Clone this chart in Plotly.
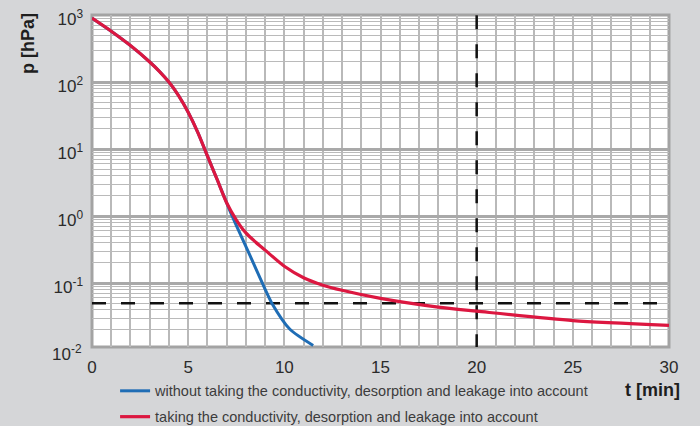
import plotly.graph_objects as go

# ---- data ----
t_red = [0, 1, 2, 3, 3.5, 4, 4.5, 5, 5.5, 6, 6.5, 7, 7.5, 8, 8.5, 9, 10, 11, 12, 13, 15, 18, 20, 25, 30]
p_red = [902, 575, 351, 200, 145, 100, 63, 35.5, 17.8, 7.9, 3.55, 1.58, 0.88, 0.56, 0.41, 0.31, 0.178,
         0.12, 0.093, 0.078, 0.059, 0.0437, 0.038, 0.0275, 0.0234]

t_blue = [0, 1, 2, 3, 3.5, 4, 4.5, 5, 5.5, 6, 6.5, 7, 7.25, 7.68, 8.2, 8.98, 9.35, 10.29, 11.5]
p_blue = [902, 575, 351, 200, 145, 100, 63, 35.5, 17.8, 7.9, 3.55, 1.58, 1.06, 0.56, 0.263, 0.083,
          0.050, 0.0204, 0.0117]

p_limit = 0.05     # horizontal dashed reference
t_mark = 20        # vertical dashed reference

x_ticks = [0, 5, 10, 15, 20, 25, 30]
y_ticks = [0.1, 1, 10, 100, 1000]
y_ticktext = ["10<sup>-1</sup>", "10<sup>0</sup>", "10<sup>1</sup>", "10<sup>2</sup>", "10<sup>3</sup>"]
y_minor = [m * 10 ** e for e in range(-2, 3) for m in range(2, 10)]

label_blue = "without taking the conductivity, desorption and leakage into account"
label_red = "taking the conductivity, desorption and leakage into account"

RED = "#dc1740"
BLUE = "#1f6db5"
BG = "#d5d6d8"
FONT = "Liberation Sans"

fig = go.Figure()

fig.add_trace(go.Scatter(x=[0, 30], y=[p_limit, p_limit], mode="lines",
                         line=dict(color="#111111", width=2.5, dash="14px,15px"),
                         showlegend=False, hoverinfo="skip"))
fig.add_trace(go.Scatter(x=[t_mark, t_mark], y=[1000, 0.008], mode="lines",
                         line=dict(color="#111111", width=2.5, dash="14px,15px"),
                         showlegend=False, hoverinfo="skip"))

fig.add_trace(go.Scatter(x=t_blue, y=p_blue, mode="lines", name=label_blue,
                         line=dict(color=BLUE, width=3, shape="spline", smoothing=0.7),
                         legendgroup="a"))
fig.add_trace(go.Scatter(x=t_red, y=p_red, mode="lines", name=label_red,
                         line=dict(color=RED, width=3.2, shape="spline", smoothing=0.7),
                         legendgroup="b"))

fig.update_layout(
    width=700, height=426,
    margin=dict(l=92, r=31, t=15, b=79, autoexpand=False),
    paper_bgcolor=BG, plot_bgcolor="white",
    font=dict(family=FONT, color="#2b2b2b"),
    showlegend=True,
    legend=dict(x=0.04, y=-0.084, xanchor="left", yanchor="top",
                bgcolor="rgba(0,0,0,0)", font=dict(size=14.5, color="#3c3c3c"),
                tracegroupgap=4, itemwidth=30),
    xaxis=dict(range=[0, 30], tickvals=x_ticks, ticks="", showline=False, zeroline=False,
               showgrid=True, gridcolor="#b9b9b9", gridwidth=1.5,
               minor=dict(dtick=1, showgrid=True, gridcolor="#b9b9b9", gridwidth=1.5),
               tickfont=dict(size=17, color="#2b2b2b"), ticklabelstandoff=8),
    yaxis=dict(type="log", range=[-1.955, 3.002], tickvals=y_ticks, ticktext=y_ticktext,
               ticks="", showline=False, zeroline=False,
               showgrid=True, gridcolor="#a9a9a9", gridwidth=2.5,
               minor=dict(tickvals=y_minor, showgrid=True, gridcolor="#bababa", gridwidth=1),
               tickfont=dict(size=17, color="#2b2b2b"), ticklabelstandoff=8,
               ticklabelshift=4),
    shapes=[dict(type="rect", xref="paper", yref="paper", x0=0, x1=1, y0=0, y1=1,
                 line=dict(color="#a3a3a3", width=3), layer="between")],
    annotations=[
        dict(text="10<sup>-2</sup>", xref="paper", yref="paper", x=0, y=0, xanchor="right",
             yanchor="middle", xshift=-8, yshift=-6, showarrow=False,
             font=dict(size=17, color="#2b2b2b")),
        dict(text="<b>p [hPa]</b>", xref="paper", yref="paper", x=0, y=1, xanchor="center",
             yanchor="middle", xshift=-64, yshift=-29, textangle=-90, showarrow=False,
             font=dict(size=18, color="#1e1e1e")),
        dict(text="<b>t [min]</b>", xref="paper", yref="paper", x=1, y=0, xanchor="right",
             yanchor="middle", xshift=13, yshift=-43, showarrow=False,
             font=dict(size=18, color="#1e1e1e")),
    ],
)

fig.write_html("out.html")
